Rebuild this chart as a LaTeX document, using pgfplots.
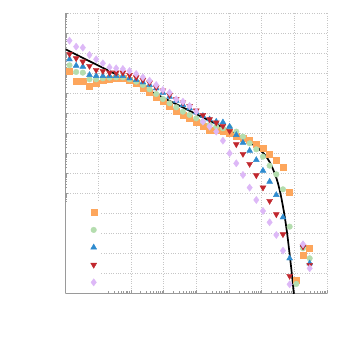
\documentclass[border=0pt]{standalone}
\usepackage{pgfplots}
\usepackage{pgfplotstable}
\pgfplotsset{compat=1.18}
\definecolor{cO}{HTML}{FDA65C}
\definecolor{cG}{HTML}{B4DDAE}
\definecolor{cB}{HTML}{2E8BCF}
\definecolor{cR}{HTML}{C1272D}
\definecolor{cP}{HTML}{DDB8F7}
\definecolor{axgray}{HTML}{9A9A9A}
% columns: log10(x), log10(y) of each series
\pgfplotstableread{
lx o g b r p
0.122 -2.917 -2.600 -2.300 -2.033 -1.367
0.326 -3.417 -2.933 -2.617 -2.250 -1.667
0.530 -3.417 -2.967 -2.667 -2.417 -1.717
0.734 -3.633 -3.300 -3.083 -2.633 -2.083
0.938 -3.500 -3.300 -3.133 -2.833 -2.300
1.143 -3.367 -3.250 -3.133 -2.883 -2.500
1.347 -3.300 -3.217 -3.133 -2.967 -2.700
1.551 -3.267 -3.200 -3.133 -2.967 -2.750
1.755 -3.267 -3.200 -3.133 -2.967 -2.783
1.959 -3.333 -3.300 -3.250 -3.083 -2.883
2.163 -3.500 -3.417 -3.333 -3.200 -3.033
2.367 -3.733 -3.583 -3.450 -3.333 -3.200
2.571 -3.967 -3.800 -3.583 -3.467 -3.367
2.775 -4.200 -4.033 -3.750 -3.700 -3.583
2.979 -4.417 -4.283 -3.967 -3.867 -3.833
3.184 -4.667 -4.500 -4.167 -4.083 -3.967
3.388 -4.900 -4.700 -4.367 -4.300 -4.300
3.592 -5.083 -4.917 -4.583 -4.467 -4.417
3.796 -5.250 -5.083 -4.750 -4.633 -4.633
4.000 -5.433 -5.250 -4.950 -4.867 -4.917
4.204 -5.633 -5.417 -5.133 -5.083 -5.417
4.408 -5.833 -5.583 -5.300 -5.300 -5.667
4.612 -5.867 -5.667 -5.417 -5.467 -5.917
4.816 -5.917 -5.750 -5.450 -5.633 -6.367
5.020 -6.000 -5.717 -5.667 -5.883 -7.000
5.225 -6.133 -5.917 -6.083 -6.550 -7.500
5.429 -6.250 -6.167 -6.467 -7.033 -8.083
5.633 -6.367 -6.500 -6.867 -7.533 -8.717
5.837 -6.533 -6.800 -7.333 -8.100 -9.333
6.041 -6.750 -7.167 -7.867 -8.717 -9.883
6.245 -7.033 -7.617 -8.417 -9.383 -10.450
6.449 -7.333 -8.050 -9.083 -10.050 -11.083
6.653 -7.700 -8.800 -10.200 -11.050 -11.867
6.857 -8.967 -10.667 -12.250 -13.133 -13.550
7.266 -12.083 -11.750 -11.583 -11.667 -11.550
7.470 -11.750 -12.250 -12.500 -12.583 -12.750
}\datamain
\pgfplotstableread{
lx o g
7.061 -13.367 -13.533
}\datatail
\pgfplotstableread{
lx ly
0.00 -1.80
1.00 -2.61
2.00 -3.42
3.00 -4.23
4.00 -5.04
4.50 -5.45
5.00 -5.87
5.40 -6.22
5.70 -6.52
5.90 -6.76
6.10 -7.08
6.25 -7.45
6.40 -8.00
6.50 -8.50
6.60 -9.20
6.70 -10.10
6.78 -11.00
6.85 -11.95
6.92 -12.95
6.98 -13.95
7.00 -14.30
}\datafit
\begin{document}
\begin{tikzpicture}
\path[use as bounding box] (-65.5bp,-51.7bp) rectangle (279.5bp,293.3bp);
\begin{axis}[
  at={(0,0)}, anchor=south west,
  scale only axis, width=261.5bp, height=280bp,
  xmode=log, ymode=log,
  xmin=1, xmax=1e8, ymin=1e-14, ymax=1,
  xtick={1,10,100,1000,1e4,1e5,1e6,1e7,1e8},
  ytick={1e-14,1e-13,1e-12,1e-11,1e-10,1e-9,1e-8,1e-7,1e-6,1e-5,1e-4,1e-3,1e-2,1e-1,1},
  xticklabels={}, yticklabels={},
  axis x line*=bottom, axis y line*=left,
  axis line style={axgray, line width=0.6pt},
  tick style={axgray, line width=0.5pt},
  tick align=inside,
  major tick length=3bp, minor tick length=2bp,
  grid=major,
  major grid style={dotted, gray!45, line width=0.6pt},
  clip=true,
  legend style={at={(0,0)}, anchor=south west, draw=none, fill=white,
    inner xsep=0pt, inner ysep=2bp, row sep=0pt, font=\small},
  legend cell align=left,
  legend image code/.code={\path[draw=none,fill=none] (0bp,0bp) -- (28bp,0bp); \path[#1,draw=none] plot[only marks] coordinates {(28bp,0bp)};},
]
\addplot[only marks, mark=square*, mark size=3bp, color=cO, mark options={fill=cO, draw=cO}]
  table[x expr=10^\thisrow{lx}, y expr=10^\thisrow{o}] {\datamain};
\addlegendentry{\rule[-6bp]{0pt}{18bp}\hspace{134bp}}
\addplot[only marks, mark=*, mark size=2.8bp, color=cG, mark options={fill=cG, draw=cG}]
  table[x expr=10^\thisrow{lx}, y expr=10^\thisrow{g}] {\datamain};
\addlegendentry{\rule[-6bp]{0pt}{18bp}\hspace{134bp}}
\addplot[only marks, mark=triangle*, mark size=3.4bp, color=cB, mark options={fill=cB, draw=cB}]
  table[x expr=10^\thisrow{lx}, y expr=10^\thisrow{b}] {\datamain};
\addlegendentry{\rule[-6bp]{0pt}{18bp}\hspace{134bp}}
\addplot[only marks, mark=triangle*, mark size=3.4bp, color=cR, mark options={fill=cR, draw=cR, rotate=180}]
  table[x expr=10^\thisrow{lx}, y expr=10^\thisrow{r}] {\datamain};
\addlegendentry{\rule[-6bp]{0pt}{18bp}\hspace{134bp}}
\addplot[only marks, mark=diamond*, mark size=3.6bp, color=cP, mark options={fill=cP, draw=cP}]
  table[x expr=10^\thisrow{lx}, y expr=10^\thisrow{p}] {\datamain};
\addlegendentry{\rule[-6bp]{0pt}{18bp}\hspace{134bp}}
\addplot[only marks, mark=square*, mark size=3bp, color=cO, mark options={fill=cO, draw=cO}, forget plot]
  table[x expr=10^\thisrow{lx}, y expr=10^\thisrow{o}] {\datatail};
\addplot[only marks, mark=*, mark size=2.8bp, color=cG, mark options={fill=cG, draw=cG}, forget plot]
  table[x expr=10^\thisrow{lx}, y expr=10^\thisrow{g}] {\datatail};
\addplot[black, line width=1.7bp, smooth, no marks, forget plot]
  table[x expr=10^\thisrow{lx}, y expr=10^\thisrow{ly}] {\datafit};
\end{axis}
\end{tikzpicture}
\end{document}
